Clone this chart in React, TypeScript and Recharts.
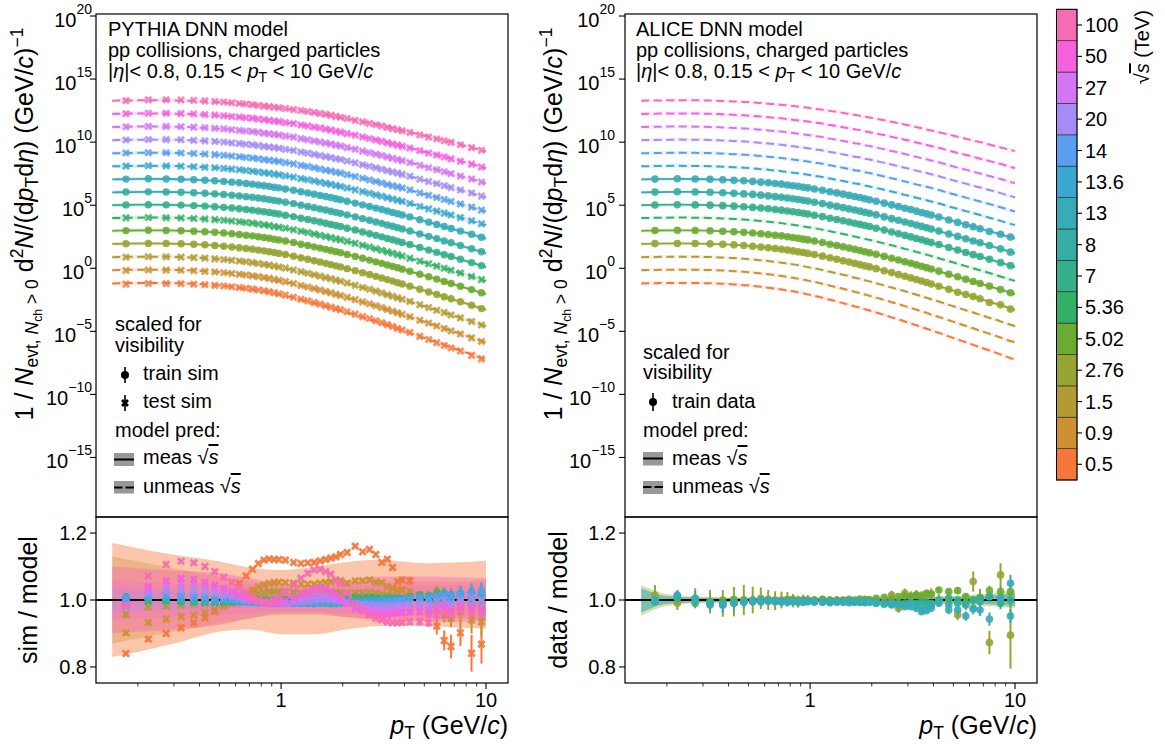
import React from 'react';
import { ComposedChart, Line, Scatter, Area, XAxis, YAxis, ReferenceLine, ErrorBar } from 'recharts';

const FONT = '"Liberation Sans", Arial, Helvetica, sans-serif';

// ---- axes ----
const X_DOMAIN = [0.125, 12.8];
const X_TICKS = [0.2, 0.3, 0.4, 0.5, 0.6, 0.7, 0.8, 0.9, 1, 2, 3, 4, 5, 6, 7, 8, 9, 10];
const Y_DOMAIN_TOP = [-19.72, 20.16]; // log10 units
const Y_TICKS_TOP = [-15, -10, -5, 0, 5, 10, 15, 20];
const Y_DOMAIN_RAT = [0.752, 1.248];
const Y_TICKS_RAT = [0.8, 1.0, 1.2];

// ---- categories ----
const ENERGIES = ['0.5', '0.9', '1.5', '2.76', '5.02', '5.36', '7', '8', '13', '13.6', '14', '20', '27', '50', '100'];
const COLORS = ['#f6773a', '#ce9032', '#b39b33', '#97a431', '#6cab32', '#32b166', '#34af8a', '#36ada4', '#37abb8', '#39a7d0', '#5a9ef2', '#a48cf4', '#d476f3', '#f561dd', '#f66cb2'];
const MEASURED = [false, false, false, true, true, false, true, true, true, false, false, false, false, false, false];

// pT points of the model curves and bin centres of the points
const PT_LINE = [0.15, 0.175, 0.225, 0.275, 0.325, 0.375, 0.425, 0.475, 0.525, 0.575, 0.625, 0.675, 0.725, 0.775, 0.825, 0.875, 0.925, 0.975, 1.05, 1.15, 1.25, 1.35, 1.45, 1.55, 1.65, 1.75, 1.85, 1.95, 2.1, 2.3, 2.5, 2.7, 2.9, 3.1, 3.3, 3.5, 3.7, 3.9, 4.25, 4.75, 5.25, 5.75, 6.25, 6.75, 7.5, 8.5, 9.5, 10];
const PT_BINS = [0.175, 0.225, 0.275, 0.325, 0.375, 0.425, 0.475, 0.525, 0.575, 0.625, 0.675, 0.725, 0.775, 0.825, 0.875, 0.925, 0.975, 1.05, 1.15, 1.25, 1.35, 1.45, 1.55, 1.65, 1.75, 1.85, 1.95, 2.1, 2.3, 2.5, 2.7, 2.9, 3.1, 3.3, 3.5, 3.7, 3.9, 4.25, 4.75, 5.25, 5.75, 6.25, 6.75, 7.5, 8.5, 9.5];
const BAND_PT = [0.15, 0.2, 0.3, 0.5, 0.7, 1, 1.5, 2, 3, 5, 7, 10];

// model spectra, log10 of d2N/(dpT deta), before scaling for visibility
const spec05 = [-1.2, -1.18, -1.16, -1.17, -1.19, -1.23, -1.28, -1.34, -1.4, -1.47, -1.54, -1.61, -1.68, -1.76, -1.83, -1.91, -1.99, -2.07, -2.18, -2.34, -2.5, -2.63, -2.77, -2.89, -3.02, -3.13, -3.25, -3.35, -3.51, -3.7, -3.89, -4.05, -4.22, -4.37, -4.52, -4.66, -4.79, -4.92, -5.12, -5.4, -5.64, -5.87, -6.07, -6.26, -6.52, -6.83, -7.12, -7.24];
const spec09 = [-1.15, -1.13, -1.11, -1.12, -1.14, -1.18, -1.23, -1.28, -1.34, -1.41, -1.47, -1.54, -1.61, -1.68, -1.75, -1.82, -1.9, -1.98, -2.08, -2.23, -2.38, -2.5, -2.63, -2.74, -2.87, -2.97, -3.08, -3.18, -3.33, -3.51, -3.69, -3.84, -4.0, -4.14, -4.29, -4.42, -4.54, -4.67, -4.86, -5.12, -5.35, -5.57, -5.76, -5.95, -6.19, -6.49, -6.77, -6.88];
const spec15 = [-1.12, -1.1, -1.08, -1.09, -1.11, -1.15, -1.19, -1.25, -1.3, -1.37, -1.43, -1.49, -1.56, -1.63, -1.69, -1.76, -1.83, -1.91, -2.0, -2.14, -2.28, -2.4, -2.52, -2.63, -2.75, -2.84, -2.95, -3.04, -3.18, -3.36, -3.53, -3.67, -3.82, -3.96, -4.1, -4.22, -4.34, -4.46, -4.64, -4.9, -5.12, -5.33, -5.51, -5.69, -5.93, -6.21, -6.48, -6.59];
const spec276 = [-1.07, -1.05, -1.03, -1.04, -1.06, -1.1, -1.14, -1.19, -1.25, -1.31, -1.37, -1.43, -1.49, -1.56, -1.62, -1.69, -1.75, -1.82, -1.91, -2.04, -2.17, -2.29, -2.4, -2.5, -2.61, -2.71, -2.81, -2.89, -3.03, -3.19, -3.35, -3.49, -3.64, -3.77, -3.9, -4.02, -4.14, -4.25, -4.42, -4.67, -4.88, -5.08, -5.26, -5.42, -5.65, -5.93, -6.19, -6.3];
const spec502 = [-1.03, -1.01, -0.99, -1.0, -1.02, -1.06, -1.1, -1.15, -1.2, -1.26, -1.32, -1.38, -1.43, -1.5, -1.56, -1.62, -1.69, -1.75, -1.84, -1.96, -2.09, -2.19, -2.3, -2.4, -2.5, -2.59, -2.69, -2.77, -2.9, -3.06, -3.21, -3.35, -3.49, -3.61, -3.74, -3.85, -3.96, -4.07, -4.24, -4.48, -4.68, -4.87, -5.05, -5.21, -5.43, -5.7, -5.95, -6.05];
const spec536 = [-1.02, -1.0, -0.98, -0.99, -1.01, -1.05, -1.09, -1.14, -1.19, -1.25, -1.31, -1.37, -1.42, -1.49, -1.55, -1.61, -1.68, -1.74, -1.82, -1.94, -2.07, -2.17, -2.28, -2.38, -2.48, -2.57, -2.67, -2.75, -2.87, -3.03, -3.18, -3.32, -3.46, -3.58, -3.7, -3.81, -3.92, -4.03, -4.2, -4.44, -4.64, -4.83, -5.0, -5.16, -5.38, -5.65, -5.9, -6.0];
const spec7 = [-1.0, -0.98, -0.96, -0.97, -0.99, -1.03, -1.07, -1.12, -1.17, -1.22, -1.28, -1.34, -1.39, -1.46, -1.52, -1.58, -1.64, -1.7, -1.79, -1.9, -2.03, -2.13, -2.23, -2.33, -2.43, -2.52, -2.61, -2.69, -2.82, -2.97, -3.12, -3.26, -3.39, -3.51, -3.64, -3.74, -3.85, -3.96, -4.12, -4.36, -4.56, -4.74, -4.92, -5.07, -5.29, -5.55, -5.79, -5.9];
const spec8 = [-0.98, -0.96, -0.94, -0.95, -0.97, -1.01, -1.05, -1.1, -1.14, -1.2, -1.26, -1.32, -1.37, -1.43, -1.49, -1.55, -1.61, -1.67, -1.76, -1.87, -1.99, -2.09, -2.19, -2.29, -2.38, -2.47, -2.56, -2.64, -2.76, -2.92, -3.06, -3.19, -3.33, -3.44, -3.57, -3.67, -3.78, -3.88, -4.05, -4.28, -4.47, -4.65, -4.83, -4.98, -5.2, -5.46, -5.7, -5.8];
const spec13 = [-0.95, -0.93, -0.91, -0.92, -0.94, -0.98, -1.02, -1.06, -1.11, -1.17, -1.22, -1.28, -1.33, -1.39, -1.45, -1.5, -1.57, -1.62, -1.71, -1.81, -1.93, -2.02, -2.12, -2.22, -2.31, -2.39, -2.48, -2.56, -2.68, -2.83, -2.97, -3.1, -3.23, -3.34, -3.46, -3.57, -3.67, -3.77, -3.93, -4.16, -4.35, -4.53, -4.7, -4.85, -5.06, -5.31, -5.55, -5.64];
const spec136 = [-0.92, -0.9, -0.88, -0.89, -0.91, -0.95, -0.99, -1.03, -1.08, -1.14, -1.19, -1.25, -1.3, -1.36, -1.42, -1.47, -1.53, -1.58, -1.67, -1.77, -1.89, -1.98, -2.08, -2.18, -2.27, -2.34, -2.43, -2.51, -2.63, -2.78, -2.92, -3.05, -3.18, -3.29, -3.41, -3.51, -3.61, -3.71, -3.87, -4.1, -4.29, -4.47, -4.63, -4.78, -4.99, -5.24, -5.48, -5.57];
const spec14 = [-0.88, -0.86, -0.84, -0.85, -0.87, -0.91, -0.95, -0.99, -1.04, -1.1, -1.15, -1.21, -1.26, -1.32, -1.38, -1.43, -1.48, -1.53, -1.62, -1.72, -1.84, -1.93, -2.03, -2.13, -2.22, -2.29, -2.38, -2.45, -2.57, -2.72, -2.86, -2.99, -3.12, -3.23, -3.35, -3.45, -3.54, -3.64, -3.8, -4.03, -4.22, -4.4, -4.56, -4.71, -4.91, -5.16, -5.4, -5.49];
const spec20 = [-0.84, -0.82, -0.8, -0.81, -0.83, -0.87, -0.91, -0.95, -1.0, -1.06, -1.11, -1.16, -1.21, -1.27, -1.33, -1.38, -1.43, -1.48, -1.57, -1.66, -1.78, -1.87, -1.97, -2.06, -2.15, -2.22, -2.31, -2.38, -2.5, -2.64, -2.78, -2.91, -3.03, -3.14, -3.26, -3.36, -3.45, -3.55, -3.7, -3.93, -4.12, -4.29, -4.45, -4.6, -4.8, -5.04, -5.28, -5.37];
const spec27 = [-0.8, -0.78, -0.76, -0.77, -0.79, -0.83, -0.87, -0.91, -0.96, -1.02, -1.07, -1.12, -1.16, -1.22, -1.28, -1.33, -1.38, -1.43, -1.52, -1.6, -1.72, -1.81, -1.91, -1.99, -2.08, -2.15, -2.24, -2.31, -2.43, -2.56, -2.7, -2.83, -2.94, -3.05, -3.17, -3.27, -3.36, -3.46, -3.6, -3.83, -4.02, -4.18, -4.34, -4.49, -4.69, -4.92, -5.16, -5.25];
const spec50 = [-0.76, -0.74, -0.72, -0.73, -0.75, -0.79, -0.83, -0.87, -0.92, -0.97, -1.02, -1.07, -1.11, -1.17, -1.22, -1.27, -1.32, -1.37, -1.45, -1.53, -1.64, -1.73, -1.82, -1.9, -1.98, -2.05, -2.14, -2.21, -2.32, -2.44, -2.58, -2.7, -2.81, -2.92, -3.03, -3.13, -3.22, -3.31, -3.45, -3.67, -3.85, -4.01, -4.16, -4.31, -4.5, -4.73, -4.96, -5.05];
const spec100 = [-0.71, -0.7, -0.68, -0.68, -0.7, -0.73, -0.77, -0.81, -0.85, -0.9, -0.95, -0.99, -1.04, -1.09, -1.14, -1.18, -1.23, -1.28, -1.35, -1.44, -1.52, -1.6, -1.68, -1.76, -1.83, -1.91, -1.98, -2.04, -2.14, -2.27, -2.38, -2.49, -2.6, -2.7, -2.81, -2.9, -2.99, -3.07, -3.21, -3.4, -3.57, -3.73, -3.87, -4.0, -4.19, -4.42, -4.62, -4.71];
const SPECTRA = [spec05, spec09, spec15, spec276, spec502, spec536, spec7, spec8, spec13, spec136, spec14, spec20, spec27, spec50, spec100];

// sim / model at PT_BINS
const simR05 = [0.84, 0.883, 0.9, 0.917, 0.932, 0.947, 0.965, 0.985, 1.02, 1.05, 1.072, 1.092, 1.109, 1.119, 1.123, 1.121, 1.121, 1.119, 1.112, 1.109, 1.111, 1.112, 1.117, 1.121, 1.125, 1.129, 1.136, 1.142, 1.161, 1.144, 1.151, 1.136, 1.112, 1.122, 1.097, 1.055, 1.06, 1.057, 1.0, 0.97, 0.922, 0.879, 0.861, 0.902, 0.841, 0.868];
const simR09 = [0.902, 0.933, 0.943, 0.95, 0.955, 0.962, 0.97, 0.98, 0.99, 1.0, 1.015, 1.03, 1.04, 1.045, 1.05, 1.052, 1.053, 1.052, 1.05, 1.048, 1.047, 1.047, 1.05, 1.052, 1.055, 1.057, 1.058, 1.05, 1.057, 1.058, 1.06, 1.053, 1.052, 1.04, 1.035, 1.03, 1.03, 1.025, 1.015, 1.012, 0.975, 0.955, 0.945, 0.965, 0.94, 0.935];
const simR15 = [0.957, 0.978, 0.982, 0.985, 0.988, 0.99, 0.993, 0.997, 1.0, 1.005, 1.01, 1.015, 1.02, 1.022, 1.024, 1.025, 1.025, 1.024, 1.022, 1.02, 1.02, 1.02, 1.021, 1.022, 1.022, 1.023, 1.022, 1.021, 1.022, 1.021, 1.023, 1.02, 1.017, 1.015, 1.012, 1.01, 1.008, 1.01, 1.015, 1.01, 0.99, 0.985, 0.975, 0.99, 0.975, 0.97];
const simR276 = [1.0, 1.003, 1.0, 0.998, 1.0, 1.002, 1.001, 0.999, 1.0, 0.998, 1.0, 1.001, 1.0, 0.999, 0.998, 1.0, 1.001, 1.0, 0.999, 1.0, 1.002, 1.001, 0.999, 0.998, 1.0, 1.001, 1.0, 1.002, 1.001, 0.999, 1.003, 1.0, 0.998, 1.004, 1.003, 1.005, 1.002, 1.008, 1.012, 1.01, 1.003, 0.995, 1.01, 0.99, 1.005, 0.985];
const simR502 = [0.992, 1.0, 1.002, 1.0, 0.998, 1.0, 1.001, 1.0, 0.999, 1.0, 1.0, 0.999, 1.001, 1.0, 1.0, 0.999, 1.0, 1.001, 1.0, 0.999, 1.0, 1.001, 1.0, 1.0, 0.999, 1.0, 1.001, 1.0, 1.002, 1.001, 1.0, 1.003, 1.002, 1.0, 1.004, 1.006, 1.005, 1.01, 1.015, 1.012, 1.025, 1.02, 1.015, 1.018, 1.02, 1.015];
const simR536 = [0.99, 0.997, 0.998, 0.996, 0.995, 0.994, 0.993, 0.993, 0.994, 0.995, 0.996, 0.997, 0.998, 0.998, 0.997, 0.998, 0.999, 1.0, 1.0, 1.001, 1.0, 1.002, 1.003, 1.002, 1.004, 1.005, 1.004, 1.006, 1.007, 1.005, 1.008, 1.006, 1.004, 1.005, 1.003, 1.0, 1.002, 1.005, 1.01, 1.005, 1.0, 0.995, 1.01, 1.005, 0.995, 1.0];
const simR7 = [1.01, 1.005, 1.0, 0.995, 0.997, 0.996, 0.995, 0.997, 0.998, 0.997, 0.996, 0.998, 0.997, 0.996, 0.995, 0.994, 0.995, 0.996, 0.995, 0.994, 0.995, 0.996, 0.995, 0.994, 0.993, 0.995, 0.996, 0.997, 0.998, 0.999, 1.0, 1.001, 1.0, 1.002, 1.0, 1.003, 1.0, 1.005, 1.008, 1.005, 1.0, 0.995, 1.005, 1.01, 1.0, 1.005];
const simR8 = [1.005, 1.002, 0.998, 0.997, 0.995, 0.996, 0.998, 0.997, 0.996, 0.995, 0.994, 0.993, 0.992, 0.993, 0.992, 0.991, 0.992, 0.993, 0.992, 0.991, 0.99, 0.991, 0.992, 0.99, 0.989, 0.99, 0.991, 0.993, 0.995, 0.996, 0.998, 1.0, 1.0, 1.002, 1.003, 1.002, 1.004, 1.005, 1.008, 1.005, 1.01, 1.0, 0.995, 1.005, 1.01, 1.012];
const simR13 = [0.998, 1.005, 1.003, 1.002, 1.0, 0.998, 0.997, 0.998, 0.996, 0.995, 0.996, 0.995, 0.994, 0.993, 0.992, 0.993, 0.991, 0.992, 0.99, 0.991, 0.99, 0.989, 0.99, 0.991, 0.99, 0.992, 0.993, 0.995, 0.997, 0.998, 1.0, 1.0, 1.002, 1.003, 1.004, 1.005, 1.003, 1.008, 1.01, 1.012, 1.015, 1.02, 1.015, 1.02, 1.025, 1.02];
const simR136 = [1.0, 1.01, 1.012, 1.01, 1.008, 1.006, 1.004, 1.002, 1.0, 0.998, 0.996, 0.995, 0.994, 0.993, 0.992, 0.992, 0.991, 0.992, 0.993, 0.994, 0.995, 0.996, 0.997, 0.998, 0.997, 0.996, 0.995, 0.994, 0.993, 0.995, 0.994, 0.996, 0.995, 0.997, 0.996, 0.998, 1.0, 1.002, 1.005, 1.0, 1.008, 1.01, 1.005, 1.01, 1.015, 1.012];
const simR14 = [1.005, 1.012, 1.015, 1.013, 1.01, 1.008, 1.005, 1.003, 1.0, 0.998, 0.996, 0.994, 0.993, 0.992, 0.99, 0.99, 0.989, 0.99, 0.99, 0.991, 0.992, 0.993, 0.994, 0.995, 0.995, 0.994, 0.993, 0.992, 0.99, 0.991, 0.99, 0.992, 0.993, 0.995, 0.996, 0.998, 1.0, 1.003, 1.008, 1.005, 1.01, 1.015, 1.012, 1.018, 1.02, 1.025];
const simR20 = [0.98, 1.02, 1.027, 1.03, 1.028, 1.025, 1.02, 1.015, 1.01, 1.005, 1.0, 0.997, 0.995, 0.993, 0.992, 0.99, 0.99, 0.991, 0.993, 0.995, 0.997, 1.0, 1.002, 1.003, 1.002, 1.0, 0.998, 0.995, 0.99, 0.987, 0.985, 0.984, 0.983, 0.982, 0.983, 0.985, 0.986, 0.988, 0.99, 0.985, 0.995, 1.0, 0.99, 1.0, 1.005, 1.0];
const simR27 = [0.985, 1.03, 1.045, 1.05, 1.048, 1.043, 1.035, 1.028, 1.02, 1.012, 1.005, 1.0, 0.996, 0.993, 0.99, 0.99, 0.991, 0.993, 0.997, 1.002, 1.007, 1.012, 1.015, 1.014, 1.01, 1.005, 0.998, 0.99, 0.982, 0.977, 0.973, 0.972, 0.971, 0.97, 0.971, 0.972, 0.974, 0.975, 0.978, 0.975, 0.98, 0.985, 0.98, 0.99, 0.985, 0.98];
const simR50 = [0.985, 1.04, 1.057, 1.065, 1.062, 1.053, 1.045, 1.035, 1.025, 1.015, 1.007, 1.0, 0.995, 0.992, 0.99, 0.991, 0.993, 0.997, 1.005, 1.015, 1.025, 1.032, 1.035, 1.033, 1.025, 1.015, 1.005, 0.99, 0.975, 0.968, 0.962, 0.958, 0.957, 0.956, 0.958, 0.96, 0.962, 0.963, 0.965, 0.96, 0.97, 0.975, 0.965, 0.98, 0.975, 0.97];
const simR100 = [0.982, 1.072, 1.106, 1.116, 1.111, 1.1, 1.085, 1.068, 1.053, 1.037, 1.022, 1.01, 1.0, 0.995, 0.995, 1.0, 1.01, 1.025, 1.045, 1.065, 1.08, 1.09, 1.092, 1.085, 1.077, 1.06, 1.05, 1.02, 0.99, 0.97, 0.955, 0.945, 0.94, 0.935, 0.932, 0.932, 0.933, 0.935, 0.935, 0.932, 0.955, 0.96, 0.955, 0.97, 0.965, 0.96];
const SIM_RATIO = [simR05, simR09, simR15, simR276, simR502, simR536, simR7, simR8, simR13, simR136, simR14, simR20, simR27, simR50, simR100];

const errSimSmall = [0.003, 0.003, 0.003, 0.003, 0.003, 0.003, 0.003, 0.003, 0.003, 0.003, 0.003, 0.003, 0.003, 0.003, 0.003, 0.003, 0.003, 0.003, 0.003, 0.003, 0.003, 0.003, 0.003, 0.003, 0.003, 0.003, 0.003, 0.003, 0.004, 0.004, 0.004, 0.005, 0.005, 0.006, 0.006, 0.007, 0.008, 0.009, 0.011, 0.013, 0.015, 0.017, 0.019, 0.022, 0.025, 0.028];
const errSimOrange = [0.004, 0.004, 0.004, 0.004, 0.004, 0.004, 0.004, 0.004, 0.004, 0.004, 0.004, 0.004, 0.004, 0.004, 0.004, 0.004, 0.004, 0.004, 0.004, 0.004, 0.004, 0.004, 0.004, 0.004, 0.004, 0.004, 0.004, 0.004, 0.004, 0.004, 0.004, 0.004, 0.004, 0.004, 0.004, 0.008, 0.009, 0.012, 0.016, 0.02, 0.025, 0.03, 0.035, 0.04, 0.055, 0.058];
const errSimGold = [0.004, 0.004, 0.004, 0.004, 0.004, 0.004, 0.004, 0.004, 0.004, 0.004, 0.004, 0.004, 0.004, 0.004, 0.004, 0.004, 0.004, 0.004, 0.004, 0.004, 0.004, 0.004, 0.004, 0.004, 0.004, 0.004, 0.004, 0.004, 0.004, 0.004, 0.004, 0.004, 0.004, 0.004, 0.004, 0.006, 0.007, 0.009, 0.012, 0.015, 0.018, 0.022, 0.026, 0.03, 0.04, 0.042];
const SIM_ERR = [errSimOrange, errSimGold, errSimSmall, errSimSmall, errSimSmall, errSimSmall, errSimSmall, errSimSmall, errSimSmall, errSimSmall, errSimSmall, errSimSmall, errSimSmall, errSimSmall, errSimSmall];

// data / model (ALICE, measured energies)
const dataR276 = [1.015, 0.99, 1.005, 0.995, 0.99, 0.995, 1.0, 1.0, 1.005, 1.0, 0.998, 1.0, 1.002, 0.998, 0.995, 1.0, 1.0, 0.998, 1.0, 0.998, 1.0, 0.998, 1.0, 0.996, 0.995, 0.998, 1.0, 0.998, 0.995, 1.015, 0.975, 1.02, 1.012, 1.015, 1.012, 1.015, 1.018, 1.0, 1.0, 0.955, 0.99, 1.055, 1.008, 0.873, 1.075, 0.895];
const dataR502 = [1.0, 1.01, 1.0, 0.995, 1.0, 1.002, 1.0, 0.998, 1.0, 1.002, 1.0, 0.998, 1.0, 1.002, 1.0, 1.0, 0.998, 1.0, 1.002, 1.0, 0.998, 1.0, 1.002, 1.0, 1.003, 1.002, 1.0, 1.005, 1.008, 1.003, 1.01, 1.012, 1.01, 1.015, 1.012, 1.02, 1.018, 1.03, 1.025, 1.028, 1.01, 1.0, 1.005, 1.028, 1.025, 1.025];
const dataR7 = [0.995, 1.005, 0.99, 0.985, 0.99, 0.992, 0.995, 0.996, 0.998, 0.997, 0.996, 0.995, 0.996, 0.997, 0.995, 0.996, 0.997, 0.998, 0.997, 0.996, 0.995, 0.997, 0.996, 0.995, 0.994, 0.996, 0.995, 0.993, 0.99, 0.988, 0.992, 0.99, 0.993, 0.99, 0.995, 0.993, 0.99, 1.0, 1.005, 1.0, 0.99, 1.0, 1.005, 1.01, 0.99, 1.0];
const dataR8 = [1.0, 1.015, 1.0, 0.99, 0.985, 0.99, 0.993, 0.995, 0.994, 0.996, 0.995, 0.994, 0.993, 0.995, 0.994, 0.993, 0.995, 0.994, 0.993, 0.992, 0.994, 0.993, 0.992, 0.993, 0.994, 0.992, 0.993, 0.99, 0.988, 0.985, 0.987, 0.985, 0.98, 0.985, 0.975, 0.98, 0.985, 0.99, 0.985, 0.99, 0.985, 0.975, 0.995, 1.01, 1.0, 0.952];
const dataR13 = [0.998, 1.01, 1.005, 0.99, 0.985, 0.99, 0.995, 0.998, 1.0, 0.998, 0.997, 0.996, 0.995, 0.996, 0.994, 0.995, 0.996, 0.994, 0.995, 0.993, 0.994, 0.995, 0.996, 0.995, 0.993, 0.994, 0.995, 0.99, 0.988, 0.99, 0.985, 0.98, 0.99, 0.975, 0.965, 0.968, 0.975, 0.995, 0.97, 0.97, 0.952, 0.973, 0.97, 0.943, 1.005, 1.05];
const errD276 = [0.03, 0.02, 0.03, 0.035, 0.04, 0.044, 0.045, 0.04, 0.032, 0.03, 0.028, 0.025, 0.022, 0.02, 0.018, 0.016, 0.015, 0.014, 0.013, 0.012, 0.012, 0.011, 0.011, 0.011, 0.011, 0.012, 0.012, 0.012, 0.012, 0.013, 0.013, 0.014, 0.014, 0.015, 0.015, 0.016, 0.017, 0.018, 0.015, 0.015, 0.02, 0.03, 0.025, 0.035, 0.035, 0.1];
const errD13 = [0.01, 0.02, 0.022, 0.022, 0.022, 0.02, 0.018, 0.016, 0.014, 0.012, 0.011, 0.01, 0.009, 0.008, 0.008, 0.007, 0.007, 0.007, 0.006, 0.006, 0.006, 0.006, 0.006, 0.006, 0.006, 0.006, 0.006, 0.006, 0.006, 0.007, 0.007, 0.007, 0.008, 0.008, 0.008, 0.009, 0.009, 0.01, 0.012, 0.012, 0.014, 0.016, 0.018, 0.02, 0.022, 0.025];
const errDSmall = [0.008, 0.01, 0.01, 0.01, 0.01, 0.009, 0.008, 0.007, 0.006, 0.006, 0.005, 0.005, 0.005, 0.005, 0.004, 0.004, 0.004, 0.004, 0.004, 0.004, 0.004, 0.004, 0.004, 0.004, 0.004, 0.004, 0.004, 0.004, 0.005, 0.005, 0.005, 0.005, 0.006, 0.006, 0.006, 0.007, 0.007, 0.008, 0.009, 0.01, 0.011, 0.012, 0.013, 0.015, 0.017, 0.02];
const DATA_SETS = [
  { k: 3, r: dataR276, err: errD276 },
  { k: 4, r: dataR502, err: errDSmall },
  { k: 6, r: dataR7, err: errDSmall },
  { k: 7, r: dataR8, err: errDSmall },
  { k: 8, r: dataR13, err: errD13 },
];

// model uncertainty bands (ratio panels), at BAND_PT
const bandLo05 = [0.83, 0.845, 0.87, 0.905, 0.912, 0.898, 0.898, 0.91, 0.922, 0.922, 0.918, 0.915];
const bandHi05 = [1.17, 1.155, 1.135, 1.115, 1.097, 1.09, 1.1, 1.112, 1.12, 1.11, 1.112, 1.117];
const bandLo09 = [0.87, 0.885, 0.905, 0.93, 0.945, 0.955, 0.955, 0.95, 0.945, 0.945, 0.945, 0.94];
const bandHi09 = [1.13, 1.115, 1.095, 1.07, 1.055, 1.045, 1.045, 1.05, 1.055, 1.055, 1.055, 1.06];
const bandLo100 = [0.9, 0.905, 0.912, 0.925, 0.945, 0.96, 0.96, 0.95, 0.94, 0.935, 0.935, 0.935];
const bandHi100 = [1.1, 1.095, 1.088, 1.08, 1.065, 1.05, 1.045, 1.055, 1.07, 1.07, 1.068, 1.065];
const bandLo50 = [0.94, 0.945, 0.95, 0.955, 0.96, 0.965, 0.965, 0.96, 0.955, 0.955, 0.955, 0.955];
const bandHi50 = [1.06, 1.055, 1.05, 1.045, 1.04, 1.035, 1.035, 1.04, 1.045, 1.045, 1.045, 1.045];
const bandLo20 = [0.965, 0.97, 0.972, 0.975, 0.978, 0.98, 0.98, 0.978, 0.975, 0.975, 0.975, 0.975];
const bandHi20 = [1.035, 1.03, 1.028, 1.025, 1.022, 1.02, 1.02, 1.022, 1.025, 1.025, 1.025, 1.025];
const bandLoD276 = [0.952, 0.982, 0.99, 0.992, 0.993, 0.993, 0.993, 0.992, 0.99, 0.987, 0.982, 0.975];
const bandHiD276 = [1.045, 1.018, 1.01, 1.008, 1.007, 1.007, 1.007, 1.008, 1.01, 1.013, 1.018, 1.03];
const bandLoD7 = [0.962, 0.988, 0.993, 0.994, 0.995, 0.995, 0.995, 0.994, 0.992, 0.99, 0.988, 0.982];
const bandHiD7 = [1.035, 1.012, 1.007, 1.006, 1.005, 1.005, 1.005, 1.006, 1.008, 1.01, 1.012, 1.02];
const SIM_BANDS = [
  { k: 0, lo: bandLo05, hi: bandHi05, op: 0.42 },
  { k: 1, lo: bandLo09, hi: bandHi09, op: 0.3 },
  { k: 14, lo: bandLo100, hi: bandHi100, op: 0.45 },
  { k: 13, lo: bandLo50, hi: bandHi50, op: 0.25 },
  { k: 11, lo: bandLo20, hi: bandHi20, op: 0.3 },
];
const DATA_BANDS = [
  { k: 3, lo: bandLoD276, hi: bandHiD276, op: 0.35 },
  { k: 7, lo: bandLoD7, hi: bandHiD7, op: 0.6 },
];

// ---------- helpers ----------
const lineData = (k: number) => PT_LINE.map((pt, i) => ({ pt, v: SPECTRA[k][i] + k }));
const markerData = (k: number, ratio: number[]) =>
  PT_BINS.map((pt, i) => ({ pt, v: SPECTRA[k][i + 1] + Math.log10(ratio[i]) + k }));
const ratioData = (ratio: number[], err: number[]) => PT_BINS.map((pt, i) => ({ pt, r: ratio[i], e: err[i] }));
const bandData = (lo: number[], hi: number[]) => BAND_PT.map((pt, i) => ({ pt, r: [lo[i], hi[i]] }));

// filled "X" marker like matplotlib's 'X'
const xMark = (color: string, s = 4.5, a = 1.4, op = 0.9) => (p: any) => (
  <g transform={`rotate(45 ${p.cx} ${p.cy})`} fill={color} opacity={op}>
    <rect x={p.cx - s} y={p.cy - a} width={2 * s} height={2 * a} />
    <rect x={p.cx - a} y={p.cy - s} width={2 * a} height={2 * s} />
  </g>
);
const dot = (color: string, r = 3.7) => (p: any) => <circle cx={p.cx} cy={p.cy} r={r} fill={color} opacity={0.9} />;

const XTick = (p: any) => {
  const v = p.payload.value;
  const major = v === 1 || v === 10;
  return (
    <g>
      <line x1={p.x} x2={p.x} y1={p.y} y2={p.y + (major ? 6 : 3.5)} stroke="#000" strokeWidth={major ? 1.1 : 0.8} />
      {major && (
        <text x={p.x} y={p.y + 24} textAnchor="middle" fontSize={20} fontFamily={FONT} fill="#000">
          {v}
        </text>
      )}
    </g>
  );
};

const YTickLog = (gap: number) => (p: any) => {
  const v = p.payload.value;
  return (
    <g>
      <line x1={p.x - 6} x2={p.x} y1={p.y} y2={p.y} stroke="#000" strokeWidth={1.1} />
      <text x={p.x - gap} y={p.y + 11} textAnchor="end" fontSize={20} fontFamily={FONT} fill="#000">
        <tspan>10</tspan>
        <tspan dy={-13} fontSize={14}>{v < 0 ? '\u2212' + Math.abs(v) : String(v)}</tspan>
      </text>
    </g>
  );
};

const YTickRat = (p: any) => (
  <g>
    <line x1={p.x - 6} x2={p.x} y1={p.y} y2={p.y} stroke="#000" strokeWidth={1.1} />
    <text x={p.x - 9} y={p.y + 7} textAnchor="end" fontSize={20} fontFamily={FONT} fill="#000">
      {Number(p.payload.value).toFixed(1)}
    </text>
  </g>
);

function SpectraPanel({ left, kind }: { left: number; kind: 'sim' | 'data' }) {
  return (
    <div style={{ position: 'absolute', left, top: 0 }}>
      <ComposedChart width={515} height={520} margin={{ top: 14, right: 7, bottom: 3, left: 0 }}>
        <XAxis dataKey="pt" type="number" scale="log" domain={X_DOMAIN} allowDataOverflow hide />
        <YAxis
          type="number"
          domain={Y_DOMAIN_TOP}
          allowDataOverflow
          ticks={Y_TICKS_TOP}
          interval={0}
          width={96}
          tickSize={0}
          tickMargin={0}
          axisLine={false}
          tickLine={false}
          tick={YTickLog(kind === 'sim' ? 4 : 10)}
        />
        {ENERGIES.map((e, k) => (
          <Line key={'h' + e} data={lineData(k)} dataKey="v" type="monotone" stroke={COLORS[k]} strokeWidth={4} strokeOpacity={kind === 'sim' ? 0.18 : 0.12} dot={false} isAnimationActive={false} />
        ))}
        {kind === 'sim' &&
          ENERGIES.map((e, k) => (
            <Scatter key={'m' + e} data={markerData(k, SIM_RATIO[k])} dataKey="v" shape={MEASURED[k] ? dot(COLORS[k]) : xMark(COLORS[k], 4.3, 1.4, 0.8)} isAnimationActive={false} />
          ))}
        {kind === 'data' &&
          DATA_SETS.map((d) => (
            <Scatter key={'d' + d.k} data={markerData(d.k, d.r)} dataKey="v" shape={dot(COLORS[d.k], 3.8)} isAnimationActive={false} />
          ))}
        {ENERGIES.map((e, k) => (
          <Line
            key={'l' + e}
            data={lineData(k)}
            dataKey="v"
            type="monotone"
            stroke={COLORS[k]}
            strokeWidth={MEASURED[k] ? 1.8 : 2}
            strokeDasharray={MEASURED[k] ? undefined : '8 4.5'}
            dot={false}
            isAnimationActive={false}
          />
        ))}
      </ComposedChart>
    </div>
  );
}

function RatioPanel({ left, kind }: { left: number; kind: 'sim' | 'data' }) {
  const bands = kind === 'sim' ? SIM_BANDS : DATA_BANDS;
  return (
    <div style={{ position: 'absolute', left, top: 517 }}>
      <ComposedChart width={515} height={228} margin={{ top: 0, right: 7, bottom: 0, left: 0 }}>
        <XAxis
          dataKey="pt"
          type="number"
          scale="log"
          domain={X_DOMAIN}
          allowDataOverflow
          ticks={X_TICKS}
          interval={0}
          height={62}
          tickSize={0}
          tickMargin={0}
          axisLine={false}
          tickLine={false}
          tick={XTick}
        />
        <YAxis
          type="number"
          domain={Y_DOMAIN_RAT}
          allowDataOverflow
          ticks={Y_TICKS_RAT}
          interval={0}
          width={96}
          tickSize={0}
          tickMargin={0}
          axisLine={false}
          tickLine={false}
          tick={YTickRat}
        />
        {bands.map((b) => (
          <Area key={'b' + b.k} data={bandData(b.lo, b.hi)} dataKey="r" type="monotone" stroke="none" fill={COLORS[b.k]} fillOpacity={b.op} isAnimationActive={false} />
        ))}
        {kind === 'sim' &&
          ENERGIES.map((e, k) => (
            <Scatter key={'s' + e} data={ratioData(SIM_RATIO[k], SIM_ERR[k])} dataKey="r" shape={MEASURED[k] ? dot(COLORS[k]) : xMark(COLORS[k])} isAnimationActive={false}>
              <ErrorBar dataKey="e" direction="y" width={0} stroke={COLORS[k]} strokeWidth={2} />
            </Scatter>
          ))}
        {kind === 'data' &&
          DATA_SETS.map((d) => (
            <Scatter key={'r' + d.k} data={ratioData(d.r, d.err)} dataKey="r" shape={dot(COLORS[d.k], 3.8)} isAnimationActive={false}>
              <ErrorBar dataKey="e" direction="y" width={0} stroke={COLORS[d.k]} strokeWidth={2} />
            </Scatter>
          ))}
        <ReferenceLine y={1} stroke="#000" strokeWidth={1.8} />
      </ComposedChart>
    </div>
  );
}

// ---------- text helpers ----------
const Sub = ({ children }: { children: React.ReactNode }) => (
  <span style={{ fontSize: '0.7em', position: 'relative', top: '0.3em', lineHeight: 0 }}>{children}</span>
);
const Sup = ({ children }: { children: React.ReactNode }) => (
  <span style={{ fontSize: '0.7em', position: 'relative', top: '-0.6em', lineHeight: 0 }}>{children}</span>
);
const Sq = () => (
  <span>
    √<span style={{ textDecoration: 'overline', fontStyle: 'italic' }}>s</span>
  </span>
);

function T({ x, y, size = 20, anchor = 'start', children }: { x: number; y: number; size?: number; anchor?: string; children: React.ReactNode }) {
  const tr = anchor === 'end' ? 'translateX(-100%)' : anchor === 'middle' ? 'translateX(-50%)' : undefined;
  return (
    <div style={{ position: 'absolute', left: x, top: y - 0.8465 * size, fontSize: size, lineHeight: `${size}px`, whiteSpace: 'nowrap', fontFamily: FONT, color: '#000', transform: tr }}>
      {children}
    </div>
  );
}

function VT({ cx, cy, size, children }: { cx: number; cy: number; size: number; children: React.ReactNode }) {
  return (
    <div style={{ position: 'absolute', left: cx, top: cy, fontSize: size, lineHeight: `${size}px`, whiteSpace: 'nowrap', fontFamily: FONT, color: '#000', transform: 'translate(-50%, -50%) rotate(-90deg)' }}>
      {children}
    </div>
  );
}

const YLabelTop = () => (
  <span>
    1 / <i>N</i>
    <Sub>
      evt, <i>N</i>
      <Sub>ch</Sub> &gt; 0
    </Sub>{' '}
    d<Sup>2</Sup>
    <i>N</i>/(d<i>p</i>
    <Sub>T</Sub>d<i>η</i>) (GeV/<i>c</i>)<Sup>−1</Sup>
  </span>
);

const XLabel = () => (
  <span>
    <i>p</i>
    <Sub>T</Sub> (GeV/<i>c</i>)
  </span>
);

const CB_TOP = 9.3;
const CB_BOTTOM = 480;
const CB_STEP = (CB_BOTTOM - CB_TOP) / ENERGIES.length;

export default function App() {
  return (
    <div style={{ position: 'absolute', left: 0, top: 0, width: 1165, height: 745, background: '#fff', overflow: 'hidden', fontFamily: FONT }}>
      <SpectraPanel left={0} kind="sim" />
      <RatioPanel left={0} kind="sim" />
      <SpectraPanel left={529} kind="data" />
      <RatioPanel left={529} kind="data" />

      <svg width={1165} height={745} style={{ position: 'absolute', left: 0, top: 0 }}>
        {/* frames */}
        {[96, 625].map((x) => (
          <g key={x}>
            <rect x={x} y={14} width={412} height={503} fill="none" stroke="#000" strokeWidth={1.2} />
            <rect x={x} y={517} width={412} height={166} fill="none" stroke="#000" strokeWidth={1.2} />
          </g>
        ))}
        {/* legend icons left */}
        <line x1={125} x2={125} y1={367} y2={383} stroke="#000" strokeWidth={1.6} />
        <circle cx={125} cy={375} r={4} fill="#000" />
        <line x1={125} x2={125} y1={395} y2={411} stroke="#000" strokeWidth={1.6} />
        {xMark('#000', 4.2, 1.4, 1)({ cx: 125, cy: 403 })}
        <rect x={114} y={453} width={20} height={13} fill="#999" />
        <line x1={114} x2={134} y1={459.5} y2={459.5} stroke="#000" strokeWidth={2} />
        <rect x={114} y={481} width={20} height={12.5} fill="#999" />
        <line x1={114} x2={134} y1={487.5} y2={487.5} stroke="#000" strokeWidth={2} strokeDasharray="8.5 3" />
        {/* legend icons right */}
        <line x1={653} x2={653} y1={393} y2={411} stroke="#000" strokeWidth={1.6} />
        <circle cx={653} cy={402} r={4} fill="#000" />
        <rect x={643} y={452} width={20} height={13.5} fill="#999" />
        <line x1={643} x2={663} y1={458.5} y2={458.5} stroke="#000" strokeWidth={2} />
        <rect x={643} y={481} width={20} height={13} fill="#999" />
        <line x1={643} x2={663} y1={487} y2={487} stroke="#000" strokeWidth={2} strokeDasharray="8.5 3" />
        {/* colour bar */}
        {ENERGIES.map((e, k) => {
          const y0 = CB_BOTTOM - (k + 1) * CB_STEP;
          const yc = y0 + CB_STEP / 2;
          return (
            <g key={e}>
              <rect x={1056.5} y={y0} width={20.5} height={CB_STEP} fill={COLORS[k]} stroke="#333" strokeWidth={0.7} />
              <line x1={1077} x2={1082} y1={yc} y2={yc} stroke="#000" strokeWidth={1.1} />
              <text x={1085} y={yc + 7} fontSize={20} fontFamily={FONT} fill="#000">
                {e}
              </text>
            </g>
          );
        })}
        <rect x={1056.5} y={CB_TOP} width={20.5} height={CB_BOTTOM - CB_TOP} fill="none" stroke="#000" strokeWidth={1} />
      </svg>

      {/* annotations */}
      <T x={108} y={36}>PYTHIA DNN model</T>
      <T x={108} y={57}>pp collisions, charged particles</T>
      <T x={108} y={78}>
        |<i>η</i>|&lt; 0.8, 0.15 &lt; <i>p</i>
        <Sub>T</Sub> &lt; 10 GeV/<i>c</i>
      </T>
      <T x={636} y={36}>ALICE DNN model</T>
      <T x={636} y={57}>pp collisions, charged particles</T>
      <T x={636} y={78}>
        |<i>η</i>|&lt; 0.8, 0.15 &lt; <i>p</i>
        <Sub>T</Sub> &lt; 10 GeV/<i>c</i>
      </T>

      {/* legends */}
      <T x={115} y={331}>scaled for</T>
      <T x={115} y={352}>visibility</T>
      <T x={143} y={380}>train sim</T>
      <T x={143} y={408}>test sim</T>
      <T x={115} y={437}>model pred:</T>
      <T x={143} y={464}>
        meas <Sq />
      </T>
      <T x={143} y={493}>
        unmeas <Sq />
      </T>

      <T x={643} y={359}>scaled for</T>
      <T x={643} y={379}>visibility</T>
      <T x={672} y={408}>train data</T>
      <T x={643} y={437}>model pred:</T>
      <T x={672} y={465}>
        meas <Sq />
      </T>
      <T x={672} y={493}>
        unmeas <Sq />
      </T>

      {/* axis labels */}
      <VT cx={24} cy={224} size={25}>
        <YLabelTop />
      </VT>
      <VT cx={553} cy={224} size={25}>
        <YLabelTop />
      </VT>
      <VT cx={28} cy={600} size={25}>
        sim / model
      </VT>
      <VT cx={558} cy={600} size={25}>
        data / model
      </VT>
      <T x={508} y={734} size={25} anchor="end">
        <XLabel />
      </T>
      <T x={1037} y={734} size={25} anchor="end">
        <XLabel />
      </T>

      {/* colour bar label, rotated, anchored at the top */}
      <div
        style={{
          position: 'absolute',
          left: 1132,
          top: 10,
          fontSize: 20,
          lineHeight: '20px',
          whiteSpace: 'nowrap',
          fontFamily: FONT,
          transformOrigin: '0 0',
          transform: 'rotate(-90deg) translateX(-100%)',
        }}
      >
        <Sq /> (TeV)
      </div>
    </div>
  );
}
